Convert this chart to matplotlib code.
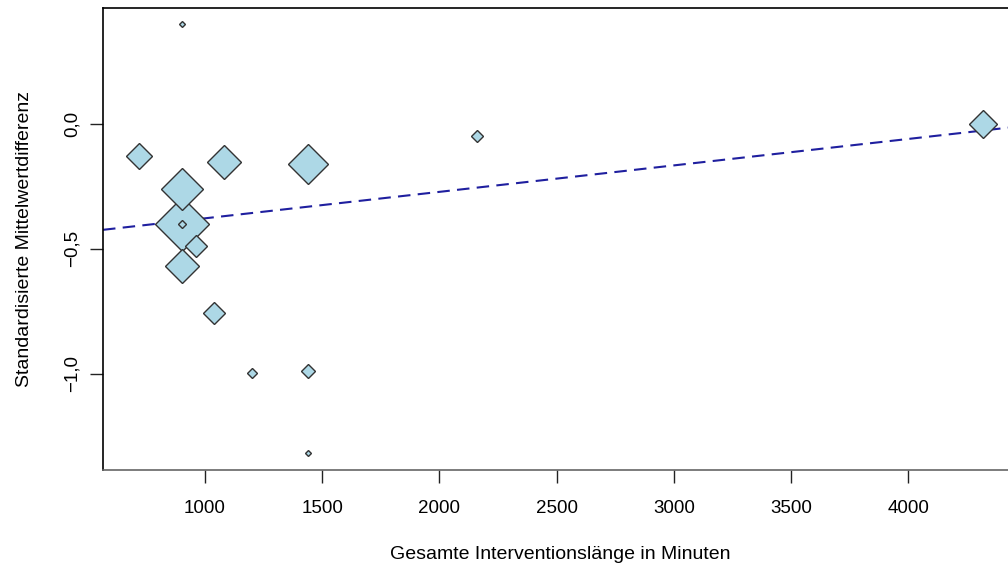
import numpy as np
import matplotlib
matplotlib.use('Agg')
import matplotlib.pyplot as plt
from matplotlib.ticker import FuncFormatter

plt.rcParams['font.family'] = ['Liberation Sans', 'DejaVu Sans']

# Studien: Interventionslänge (Minuten), SMD, Gewicht (%)
minuten = [900, 720, 900, 900, 900, 960, 900, 1080, 1440, 1040, 1200, 1440, 1440, 2160, 4320]
smd = [0.40, -0.13, -0.26, -0.40, -0.40, -0.49, -0.57, -0.155, -0.16, -0.755, -0.995, -0.99, -1.315, -0.05, 0.0]
gewicht = [0.31, 5.79, 15.1, 24.97, 0.55, 4.15, 9.9, 9.9, 13.7, 4.15, 0.86, 1.68, 0.31, 1.23, 6.71]

# Meta-Regression
intercept = -0.484
slope = 1.057e-4

x_ticks = [1000, 1500, 2000, 2500, 3000, 3500, 4000]
y_ticks = [0.0, -0.5, -1.0]

fig = plt.figure(figsize=(10.08, 5.68), dpi=100)
ax = fig.add_axes([0.1022, 0.1725, 0.9067, 0.8134])
ax.set_xlim(565, 4464)
ax.set_ylim(-1.384, 0.462)

xs = np.array(ax.get_xlim())
ax.plot(xs, intercept + slope * xs, color='#1f1f9f', lw=1.5,
        dashes=(6, 3.5), zorder=1)

w = np.array(gewicht)
groesse = 27 * np.sqrt(w / w.max())
order = np.argsort(-groesse)
for i in order:
    ax.plot(minuten[i], smd[i], marker='D', ms=groesse[i], mfc='#add8e6',
            mec='#333333', mew=1.0, ls='none', zorder=2)

ax.set_xticks(x_ticks)
ax.set_yticks(y_ticks)
ax.yaxis.set_major_formatter(FuncFormatter(
    lambda v, p: ('%.1f' % v).replace('.', ',').replace('-', '\u2212')))
ax.tick_params(axis='both', labelsize=13.5, length=9.5, width=1, color='#222222')
ax.tick_params(axis='x', pad=12)
ax.tick_params(axis='y', pad=6.5)
for lab in ax.get_yticklabels():
    lab.set_rotation(90)
    lab.set_va('center')

for s in ['left', 'top']:
    ax.spines[s].set_color('black')
    ax.spines[s].set_linewidth(1.2)
ax.spines['bottom'].set_color('#666666')
ax.spines['bottom'].set_linewidth(1.2)
ax.spines['right'].set_visible(False)

ax.set_xlabel('Gesamte Interventionslänge in Minuten', fontsize=14, labelpad=21)
ax.set_ylabel('Standardisierte Mittelwertdifferenz', fontsize=14, labelpad=22)

fig.savefig('out.png', dpi=100)
